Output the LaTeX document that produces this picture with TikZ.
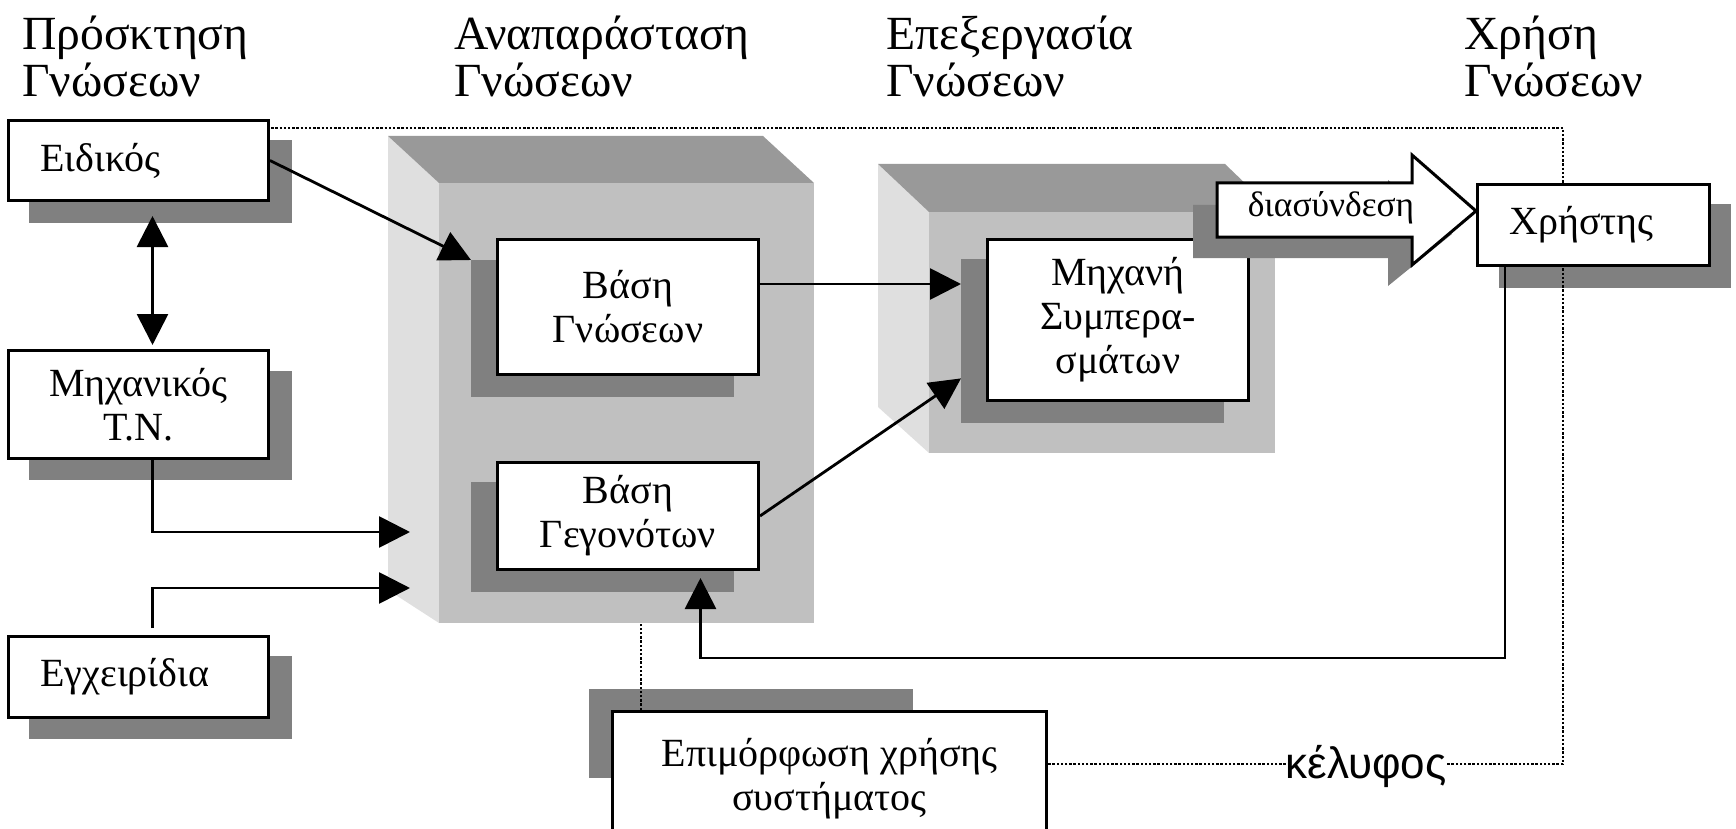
\documentclass[tikz,border=0pt]{standalone}
\usepackage{fontspec}
\setmainfont{Liberation Serif}
\newfontfamily\kelfont{Liberation Sans}
\usetikzlibrary{arrows.meta,calc}
\definecolor{shd}{HTML}{808080}
\definecolor{ctop}{HTML}{999999}
\definecolor{cleft}{HTML}{DFDFDF}
\definecolor{cfront}{HTML}{C0C0C0}
\newcommand\hdrfont{\fontsize{23.8pt}{26pt}\selectfont}
\newcommand\lblfont{\fontsize{20pt}{22pt}\selectfont}
\newcommand\dsfont{\fontsize{17.7pt}{20pt}\selectfont}
\begin{document}
\begin{tikzpicture}[x=0.5pt,y=-0.5pt,
  shad/.style={fill=shd, draw=none, inner sep=0pt, anchor=north west},
  blk/.style={draw=black, line width=1.5pt, fill=white, inner sep=0pt, anchor=north west, font=\lblfont},
  lblk/.style={blk, align=left, inner xsep=16pt},
  conn/.style={line width=1.4pt, -{Triangle[length=15.5pt,width=15.5pt]}},
  dconn/.style={line width=1.4pt, {Triangle[length=15.5pt,width=15.5pt]}-{Triangle[length=15.5pt,width=15.5pt]}},
  shell/.style={line width=1.35pt, dash pattern=on 1.2pt off 0.9pt},
  hdr/.style={font=\hdrfont, anchor=base west, inner sep=0pt}]
\useasboundingbox (0,0) rectangle (1736,829);
\clip (0,0) rectangle (1736,829);

% outer shadows
\node[shad, minimum width=131.5pt, minimum height=41.5pt] (eis) at (29,140) {};
\node[shad, minimum width=131.5pt, minimum height=54.5pt] (mts) at (29,371) {};
\node[shad, minimum width=131.5pt, minimum height=41.5pt] (egs) at (29,656) {};
\node[shad, minimum width=116pt, minimum height=42pt] (xrs) at (1499,204) {};
\node[shad, minimum width=162pt, minimum height=44.5pt] (eps) at (589,689) {};

% shell (dotted)
\coordinate (sh1) at (1563,128);
\coordinate (sh2) at (1563,764);
\coordinate (ept) at (641,710);
\draw[shell] (267,128) -- (sh1) -- (sh2) -- (1045,764);
\draw[shell] (ept) -- ++(0,-87);

% cube 1
\fill[cleft] (388,136) -- (439,183) -- (439,623) -- (388,590) -- cycle;
\fill[ctop] (388,136) -- (763,136) -- (814,183) -- (439,183) -- cycle;
\fill[cfront] (439,183) rectangle (814,623);
% cube 2
\fill[cleft] (878,164) -- (929,212) -- (929,453) -- (878,407) -- cycle;
\fill[ctop] (878,164) -- (1225,164) -- (1275,212) -- (929,212) -- cycle;
\fill[cfront] (929,212) rectangle (1275,453);

% inner shadows
\node[shad, minimum width=131.5pt, minimum height=68.5pt] (bgs) at (471,260) {};
\node[shad, minimum width=131.5pt, minimum height=55pt] (bfs) at (471,482) {};
\node[shad, minimum width=131.5pt, minimum height=82pt] (ms) at (961,259) {};

% boxes
\node[lblk, minimum width=130pt, minimum height=40pt, text width=98pt] (ei) at (7,119) {Ειδικός};
\node[blk, minimum width=130pt, minimum height=54pt, align=center] (mt) at (7,349) {Μηχανικός\\Τ.Ν.};
\node[lblk, minimum width=130pt, minimum height=40.5pt, text width=98pt] (eg) at (7,635) {Εγχειρίδια};
\node[blk, minimum width=130.5pt, minimum height=67.5pt, align=center] (bg) at (496,238) {Βάση\\Γνώσεων};
\node[blk, minimum width=130.5pt, minimum height=53.5pt, align=center] (bf) at (496,461) {Βάση\\Γεγονότων};
\node[blk, minimum width=130.5pt, minimum height=80.5pt, align=center] (mh) at (986,238) {Μηχανή\\Συμπερα-\\σμάτων};
\node[lblk, minimum width=116pt, minimum height=40.5pt, text width=84pt] (xr) at (1476,183) {Χρήστης};
\node[blk, minimum width=217pt, minimum height=67pt, align=center] (ep) at (611,710) {Επιμόρφωση χρήσης\\συστήματος};

% block arrow "διασύνδεση"
\fill[shd] (1193,205) -- (1388,205) -- (1388,180) -- (1452,234) -- (1388,286) -- (1388,258) -- (1193,258) -- cycle;
\draw[line width=1.5pt, fill=white] (1217,183) -- (1412,183) -- (1412,155) -- (1476,211) -- (1412,265) -- (1412,237) -- (1217,237) -- cycle;
\node[font=\dsfont, inner sep=0pt] (ds) at (1331,208) {διασύνδεση};

% connectors
\draw[conn] (ei.east) -- (bgs.north west);
\draw[dconn] ([xshift=7pt,yshift=-7pt]ei.south) -- ([xshift=7pt,yshift=2pt]mt.north);
\coordinate (in1) at (410,532);
\coordinate (in2) at (410,588);
\draw[conn] ([xshift=7pt]mt.south) |- (in1);
\draw[conn] ([xshift=7pt,yshift=3.5pt]eg.north) |- (in2);
\coordinate (bgo) at ([yshift=11.5pt]bg.east);
\draw[conn] (bgo) -- (bgo -| ms.west);
\draw[conn] (bf.east) -- ([yshift=-18.5pt]ms.west);
\coordinate (bft) at ([xshift=36.25pt,yshift=-3.5pt]bf.south);
\draw[conn] ([xshift=14.5pt]xr.south west) -- ++(0,391) -| (bft);

% headers
\node[hdr] (h1a) at (22,50) {Πρόσκτηση};
\node[hdr] (h1b) at (22,97) {Γνώσεων};
\node[hdr] (h2a) at (454,50) {Αναπαράσταση};
\node[hdr] (h2b) at (454,97) {Γνώσεων};
\node[hdr] (h3a) at (886,50) {Επεξεργασία};
\node[hdr] (h3b) at (886,97) {Γνώσεων};
\node[hdr] (h4a) at (1464,50) {Χρήση};
\node[hdr] (h4b) at (1464,97) {Γνώσεων};

% shell label
\node[font=\kelfont\fontsize{22pt}{24pt}\selectfont, fill=white, inner sep=0pt, anchor=base] (kel) at (1366,778) {κέλυφος};
\end{tikzpicture}
\end{document}
